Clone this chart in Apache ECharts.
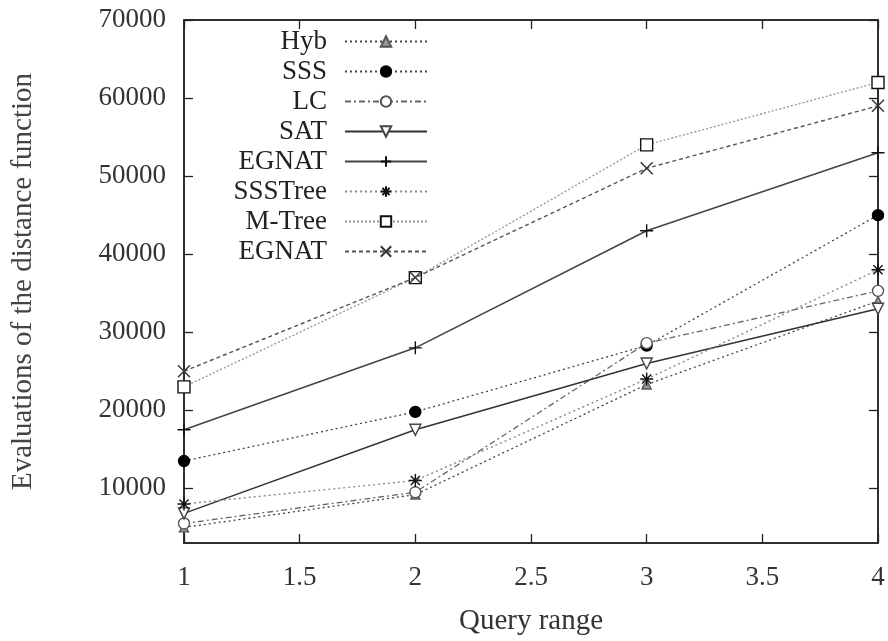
<!DOCTYPE html>
<html>
<head>
<meta charset="utf-8">
<script src="https://cdn.jsdelivr.net/npm/echarts@6/dist/echarts.min.js"></script>
<style>
html,body{margin:0;padding:0;background:#fff;}
#chart{width:888px;height:641px;}
</style>
</head>
<body>
<div id="chart"></div>
<script>
const queryRange = [1, 2, 3, 4];
const xTicks = [1, 1.5, 2, 2.5, 3, 3.5, 4];
const yTicks = [10000, 20000, 30000, 40000, 50000, 60000, 70000];
const legendLabels = ['Hyb', 'SSS', 'LC', 'SAT', 'EGNAT', 'SSSTree', 'M-Tree', 'EGNAT'];
const hyb = [5000, 9200, 23300, 34000];
const sss = [13500, 19800, 28300, 45000];
const lc = [5500, 9500, 28600, 35300];
const sat = [6800, 17500, 26000, 33000];
const egnatPlus = [17500, 28000, 43000, 53000];
const ssstree = [8000, 11000, 24000, 38000];
const mtree = [23000, 37000, 54000, 62000];
const egnatCross = [25000, 37000, 51000, 59000];

const seriesValues = [hyb, sss, lc, sat, egnatPlus, ssstree, mtree, egnatCross];
const seriesKeys = ['s0', 's1', 's2', 's3', 's4', 's5', 's6', 's7'];

const styles = [
  {color:'#444', type:[2,3], width:1.3, symbol:'triangle', size:9, fill:'#999', stroke:'#555'},
  {color:'#444', type:[2,3], width:1.3, symbol:'circle', size:11, fill:'#000', stroke:'#000'},
  {color:'#666', type:[6,3,2,3], width:1.3, symbol:'circle', size:11, fill:'#fff', stroke:'#555'},
  {color:'#333', type:'solid', width:1.5, symbol:'path://M0,0L10,0L5,9Z', size:11, fill:'#fff', stroke:'#444'},
  {color:'#444', type:'solid', width:1.6, symbol:'path://M5,0L5,10M0,5L10,5', size:13, fill:'none', stroke:'#111'},
  {color:'#888', type:[2,3], width:1.4, symbol:'path://M5,0L5,10M0,5L10,5M1.5,1.5L8.5,8.5M8.5,1.5L1.5,8.5', size:13, fill:'none', stroke:'#111'},
  {color:'#999', type:[2,2], width:1.4, symbol:'rect', size:12, fill:'#fff', stroke:'#111'},
  {color:'#555', type:[4,3], width:1.4, symbol:'path://M0,0L10,10M10,0L0,10', size:12, fill:'none', stroke:'#333'}
];

const serif = '"Liberation Serif", "DejaVu Serif", serif';

const series = seriesValues.map((vals, i) => ({
  name: seriesKeys[i],
  type: 'line',
  xAxisIndex: 0,
  yAxisIndex: 0,
  data: queryRange.map((x, j) => [x, vals[j]]),
  symbol: styles[i].symbol,
  symbolSize: styles[i].size,
  showAllSymbol: true,
  clip: false,
  lineStyle: {color: styles[i].color, type: styles[i].type, width: styles[i].width},
  itemStyle: {color: styles[i].fill, borderColor: styles[i].stroke, borderWidth: 1.4},
  emphasis: {disabled: true},
  z: 3 + i
}));

const chart = echarts.init(document.getElementById('chart'), null, {renderer: 'canvas'});
const axisLine = {show: true, lineStyle: {color: '#222', width: 1.5}};
chart.setOption({
  animation: false,
  backgroundColor: '#fff',
  grid: {left: 184, right: 10, top: 20, bottom: 95, show: true, borderColor: '#222', borderWidth: 1.5, containLabel: false},
  legend: {
    orient: 'vertical',
    left: 222,
    top: 23,
    align: 'right',
    itemWidth: 82,
    itemHeight: 13,
    itemGap: 3,
    data: seriesKeys,
    formatter: name => legendLabels[seriesKeys.indexOf(name)],
    textStyle: {fontFamily: serif, fontSize: 27, color: '#222', width: 100, align: 'right', lineHeight: 22, padding: [0, 13, 0, 0]},
    selectedMode: false
  },
  xAxis: [
    {type: 'value', min: 1, max: 4, interval: 0.5, position: 'bottom',
     name: 'Query range', nameLocation: 'middle', nameGap: 64,
     nameTextStyle: {fontFamily: serif, fontSize: 29, color: '#333'},
     axisLine: axisLine,
     axisTick: {show: true, inside: true, length: 9, lineStyle: {color: '#222', width: 1.3}},
     axisLabel: {fontFamily: serif, fontSize: 27, color: '#333', margin: 21, formatter: v => String(v)},
     splitLine: {show: false}},
    {type: 'value', min: 1, max: 4, interval: 0.5, position: 'top',
     axisLine: axisLine,
     axisTick: {show: true, inside: true, length: 9, lineStyle: {color: '#222', width: 1.3}},
     axisLabel: {show: false}, splitLine: {show: false}}
  ],
  yAxis: [
    {type: 'value', min: 3000, max: 70000, position: 'left',
     name: 'Evaluations of the distance function', nameLocation: 'middle', nameGap: 146,
     nameTextStyle: {fontFamily: serif, fontSize: 29, color: '#444'},
     axisLine: axisLine,
     axisTick: {show: true, inside: true, length: 9, customValues: yTicks, lineStyle: {color: '#222', width: 1.3}},
     axisLabel: {fontFamily: serif, fontSize: 27, color: '#333', margin: 18, customValues: yTicks, formatter: v => String(v)},
     splitLine: {show: false}},
    {type: 'value', min: 3000, max: 70000, position: 'right',
     axisLine: axisLine,
     axisTick: {show: true, inside: true, length: 9, customValues: yTicks, lineStyle: {color: '#222', width: 1.3}},
     axisLabel: {show: false}, splitLine: {show: false}}
  ],
  series: series
});
</script>
</body>
</html>
